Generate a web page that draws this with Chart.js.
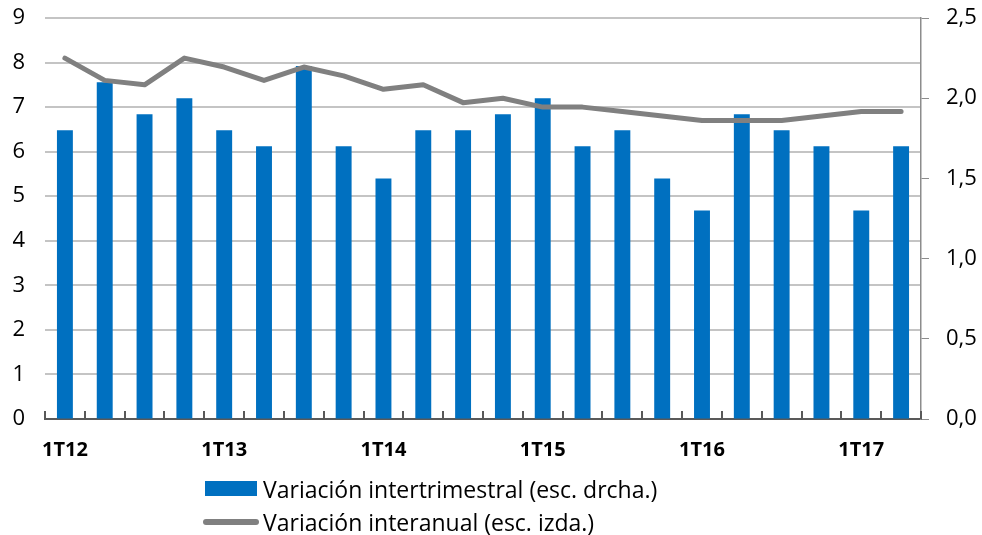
<!DOCTYPE html>
<html>
<head>
<meta charset="utf-8">
<script src="https://cdn.jsdelivr.net/npm/chart.js@4/dist/chart.umd.min.js"></script>
<style>
  html, body { margin: 0; padding: 0; background: #fff; }
  #wrap { position: relative; width: 982px; height: 535px; }
  #legend { position: absolute; left: 203px; top: 472px; font-family: "Open Sans", sans-serif; font-size: 23px; color: #000; }
  .item { display: flex; align-items: center; height: 33px; }
  .swatch-bar { width: 52px; height: 15px; background: #0070c0; margin-left: 2px; margin-right: 6px; }
  .swatch-line { width: 56px; height: 6px; border-radius: 3px; background: #808080; margin-right: 4px; }
</style>
</head>
<body>
<div id="wrap">
  <canvas id="chart" width="982" height="535"></canvas>
  <div id="legend">
    <div class="item"><span class="swatch-bar"></span>Variación intertrimestral (esc. drcha.)</div>
    <div class="item"><span class="swatch-line"></span>Variación interanual (esc. izda.)</div>
  </div>
</div>
<script>
// Quarters, 1T12 .. 2T17
const quarters = [
  '1T12', '2T12', '3T12', '4T12',
  '1T13', '2T13', '3T13', '4T13',
  '1T14', '2T14', '3T14', '4T14',
  '1T15', '2T15', '3T15', '4T15',
  '1T16', '2T16', '3T16', '4T16',
  '1T17', '2T17'
];

// Bars: quarter-on-quarter change (right scale)
const intertrimestral = [
  1.8, 2.1, 1.9, 2.0,
  1.8, 1.7, 2.2, 1.7,
  1.5, 1.8, 1.8, 1.9,
  2.0, 1.7, 1.8, 1.5,
  1.3, 1.9, 1.8, 1.7,
  1.3, 1.7
];

// Line: year-on-year change (left scale)
const interanual = [
  8.1, 7.6, 7.5, 8.1,
  7.9, 7.6, 7.9, 7.7,
  7.4, 7.5, 7.1, 7.2,
  7.0, 7.0, 6.9, 6.8,
  6.7, 6.7, 6.7, 6.8,
  6.9, 6.9
];

Chart.defaults.font.family = '"Open Sans", sans-serif';
Chart.defaults.color = '#000';

// Small upward tick marks between categories on the x axis
const innerTicks = {
  id: 'innerTicks',
  afterDatasetsDraw(chart) {
    const x = chart.scales.x;
    const ctx = chart.ctx;
    const bottom = chart.chartArea.bottom;
    const half = (x.getPixelForValue(1) - x.getPixelForValue(0)) / 2;
    ctx.save();
    ctx.strokeStyle = '#595959';
    ctx.lineWidth = 2;
    ctx.beginPath();
    for (let i = 0; i <= quarters.length; i++) {
      const px = Math.round(x.getPixelForValue(i) - half);
      ctx.moveTo(px, bottom);
      ctx.lineTo(px, bottom - 8);
    }
    ctx.stroke();
    ctx.restore();
  }
};

// fixed box sizes so the plot area lands where the original has it
function fixWidth(w) {
  return s => { s.width = w; s.paddingTop = 0; s.paddingBottom = 0; };
}

new Chart(document.getElementById('chart'), {
  data: {
    labels: quarters,
    datasets: [
      {
        type: 'line',
        label: 'Variación interanual (esc. izda.)',
        data: interanual,
        yAxisID: 'y',
        borderColor: '#808080',
        borderWidth: 5,
        borderCapStyle: 'round',
        borderJoinStyle: 'round',
        pointRadius: 0,
        tension: 0,
        order: 0
      },
      {
        type: 'bar',
        label: 'Variación intertrimestral (esc. drcha.)',
        data: intertrimestral,
        yAxisID: 'y2',
        backgroundColor: '#0070c0',
        categoryPercentage: 1,
        barPercentage: 0.4,
        order: 1
      }
    ]
  },
  options: {
    responsive: false,
    animation: false,
    layout: { padding: { top: 18, left: 0, right: 0, bottom: 0 } },
    plugins: {
      legend: { display: false },
      tooltip: { enabled: false }
    },
    scales: {
      x: {
        offset: true,
        grid: { display: false },
        border: { display: true, color: '#595959', width: 2 },
        ticks: {
          autoSkip: false,
          maxRotation: 0,
          padding: 11,
          font: { size: 20, weight: 'bold' },
          callback: (v, i) => quarters[i].startsWith('1T') ? quarters[i] : ''
        },
        afterFit: s => { s.height = 116; s.paddingLeft = 0; s.paddingRight = 0; }
      },
      y: {
        position: 'left',
        min: 0,
        max: 9,
        ticks: { stepSize: 1, padding: 20, font: { size: 22 } },
        grid: { color: '#c4c4c4', lineWidth: 2, drawTicks: false },
        border: { display: false },
        afterFit: fixWidth(45)
      },
      y2: {
        position: 'right',
        min: 0,
        max: 2.5,
        ticks: {
          stepSize: 0.5,
          padding: 17,
          font: { size: 22 },
          callback: v => v.toFixed(1).replace('.', ',')
        },
        grid: { drawOnChartArea: false, color: '#8c8c8c', tickLength: 8 },
        border: { display: true, color: '#8c8c8c', width: 1.5 },
        afterFit: fixWidth(61)
      }
    }
  },
  plugins: [innerTicks]
});
</script>
</body>
</html>
